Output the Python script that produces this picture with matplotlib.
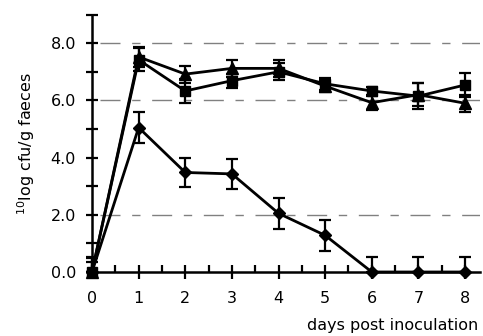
import numpy as np
import matplotlib
matplotlib.use("Agg")
import matplotlib.pyplot as plt
from matplotlib.ticker import MultipleLocator

days = [0, 1, 2, 3, 4, 5, 6, 7, 8]

# diamond series
diamond = [0.0, 5.05, 3.48, 3.43, 2.05, 1.28, 0.0, 0.0, 0.0]
diamond_lo = [0.0, 0.54, 0.52, 0.53, 0.54, 0.54, 0.0, 0.0, 0.0]
diamond_hi = [0.54, 0.54, 0.52, 0.53, 0.54, 0.54, 0.54, 0.54, 0.54]

# square series
square = [0.0, 7.42, 6.33, 6.69, 7.0, 6.58, 6.33, 6.15, 6.54]
square_err = [0.35, 0.4, 0.43, 0.25, 0.3, 0.2, 0.15, 0.45, 0.43]

# triangle series
triangle = [0.0, 7.52, 6.92, 7.12, 7.12, 6.5, 5.92, 6.2, 5.9]
triangle_err = [0.5, 0.35, 0.3, 0.3, 0.3, 0.2, 0.25, 0.4, 0.3]

grid_levels = [2.0, 6.0, 8.0]

fig = plt.figure(figsize=(4.83, 3.36), dpi=100)
ax = fig.add_axes([0.1905, 0.1905, 0.8033, 0.766])

for y in grid_levels:
    ax.axhline(y, xmin=0.02, xmax=1.0, color="#808080", lw=1.0,
               dashes=(14.4, 8.4, 6.0, 8.4), zorder=1)

def draw(yv, lo, hi, marker, ms):
    ax.errorbar(days, yv, yerr=[lo, hi], fmt="none", ecolor="black",
                elinewidth=1.6, capsize=4.4, capthick=1.6, clip_on=False, zorder=3)
    ax.plot(days, yv, color="black", lw=2.0, marker=marker, ms=ms,
            mfc="black", mec="black", clip_on=False, zorder=4)

draw(diamond, diamond_lo, diamond_hi, "D", 6.5)
draw(square, [0] + square_err[1:], square_err, "s", 7.5)
draw(triangle, [0] + triangle_err[1:], triangle_err, "^", 8.5)

ax.set_xlim(0, 8.32)
ax.set_ylim(0, 9.0)

ax.spines["top"].set_visible(False)
ax.spines["right"].set_visible(False)
ax.spines["left"].set_linewidth(1.8)
ax.spines["bottom"].set_linewidth(1.8)

ax.yaxis.set_major_locator(MultipleLocator(2))
ax.yaxis.set_minor_locator(MultipleLocator(1))
ax.xaxis.set_major_locator(MultipleLocator(1))
ax.xaxis.set_minor_locator(MultipleLocator(0.5))
ax.set_yticks([0, 2, 4, 6, 8])
ax.set_yticklabels(["0.0", "2.0", "4.0", "6.0", "8.0"])
ax.set_xticks(days)
ax.set_xticklabels([str(d) for d in days])

ax.tick_params(axis="y", which="both", direction="inout", length=9, width=1.6,
               labelsize=11.5, pad=7)
ax.tick_params(axis="x", which="major", direction="inout", length=10, width=1.6,
               labelsize=11.5, pad=9)
ax.tick_params(axis="x", which="minor", direction="in", length=5, width=1.6)

ax.set_ylabel(r"$^{10}$log cfu/g faeces", fontsize=11.5, labelpad=10)
fig.text(0.99, 0.01, "days post inoculation", ha="right", va="bottom", fontsize=11.5)

fig.savefig("out.png", dpi=100)
